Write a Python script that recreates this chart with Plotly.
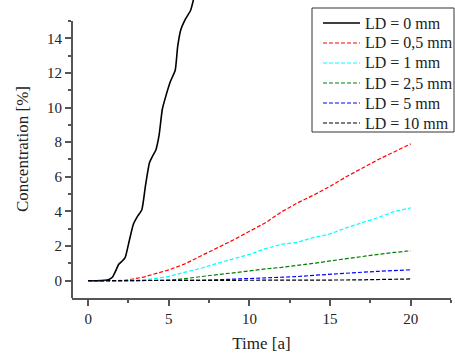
import plotly.graph_objects as go

# ---- data ----
x_ld0 = [0, 0.5, 1.0, 1.25, 1.5, 1.7, 1.9, 2.1, 2.3, 2.5, 2.8, 3.05, 3.33, 3.55, 3.8,
         4.0, 4.2, 4.4, 4.6, 4.8, 5.1, 5.4, 5.55, 5.75, 6.0, 6.35, 6.6]
y_ld0 = [0, 0, 0.02, 0.05, 0.2, 0.55, 0.95, 1.12, 1.35, 2.1, 3.25, 3.7, 4.1, 5.45, 6.8,
         7.2, 7.55, 8.4, 9.9, 10.6, 11.5, 12.15, 13.5, 14.5, 15.05, 15.6, 16.5]

x_grid = [0, 1, 2, 2.5, 3, 3.5, 4, 4.5, 5, 6, 7, 8, 9, 10, 11, 12, 13, 14, 15, 16, 17, 18, 19, 20]
y_ld05 = [0, 0, 0, 0.05, 0.12, 0.22, 0.36, 0.5, 0.62, 0.97, 1.42, 1.88, 2.35, 2.85, 3.35,
          3.98, 4.5, 4.95, 5.45, 6.0, 6.5, 7.0, 7.45, 7.9]
y_ld1 = [0, 0, 0, 0, 0.02, 0.05, 0.1, 0.17, 0.25, 0.47, 0.72, 1.0, 1.25, 1.52, 1.85,
         2.1, 2.22, 2.5, 2.7, 3.05, 3.35, 3.65, 4.0, 4.2]
y_ld25 = [0, 0, 0, 0, 0, 0, 0, 0, 0.02, 0.12, 0.25, 0.35, 0.45, 0.58, 0.68,
          0.77, 0.87, 1.0, 1.14, 1.28, 1.4, 1.52, 1.63, 1.73]
y_ld5 = [0, 0, 0, 0, 0, 0, 0, 0, 0, 0, 0.02, 0.05, 0.08, 0.11, 0.15,
         0.19, 0.24, 0.31, 0.38, 0.44, 0.49, 0.54, 0.59, 0.63]
y_ld10 = [0, 0, 0, 0, 0, 0, 0, 0, 0, 0, 0, 0, 0, 0, 0,
          0, 0, 0, 0.02, 0.04, 0.05, 0.07, 0.09, 0.1]

names = ["LD = 0 mm", "LD = 0,5 mm", "LD = 1 mm", "LD = 2,5 mm", "LD = 5 mm", "LD = 10 mm"]
colors = ["#000000", "#FF0000", "#00FFFF", "#008000", "#0000FF", "#000000"]
dashes = ["solid", "4px,2px", "4px,2px", "4px,2px", "4px,2px", "4px,2px"]
widths = [1.6, 1.2, 1.2, 1.2, 1.2, 1.2]

x_ticks = [0, 5, 10, 15, 20]
x_minor = [2.5, 7.5, 12.5, 17.5, 22.5]
y_ticks = [0, 2, 4, 6, 8, 10, 12, 14]
y_minor = [1, 3, 5, 7, 9, 11, 13, 15]

FONT = "Liberation Serif"
AX = "#555555"
W, H = 455, 353
ML, MR, MT, MB = 72, 4, 0, 55
PW, PH = W - ML - MR, H - MT - MB


def px(xp):
    return (xp - ML) / PW


def py(yp):
    return (H - MB - yp) / PH


fig = go.Figure()
all_x = [x_ld0] + [x_grid] * 5
all_y = [y_ld0, y_ld05, y_ld1, y_ld25, y_ld5, y_ld10]
for i in range(6):
    line = dict(color=colors[i], width=widths[i], dash=dashes[i])
    if i == 0:
        line.update(shape="spline", smoothing=0.5)
    fig.add_trace(go.Scatter(x=all_x[i], y=all_y[i], name=names[i], mode="lines",
                             line=line, showlegend=False))

# y axis line drawn only up to 15 (data may run above it)
fig.add_shape(type="line", xref="paper", yref="y", x0=0, x1=0, y0=-1, y1=15,
              line=dict(color=AX, width=2))

# legend box (drawn to match the reference layout)
fig.add_shape(type="rect", xref="paper", yref="paper",
              x0=px(312), x1=px(454), y0=py(132), y1=py(8),
              line=dict(color="#333333", width=1), fillcolor="white", layer="above")
for i in range(6):
    yy = py(23 + 20 * i)
    fig.add_shape(type="line", xref="paper", yref="paper", x0=px(323), x1=px(360),
                  y0=yy, y1=yy, layer="above",
                  line=dict(color=colors[i], width=widths[i], dash=dashes[i]))
    fig.add_annotation(xref="paper", yref="paper", x=px(363), y=yy, text=names[i],
                       showarrow=False, xanchor="left", yanchor="middle",
                       font=dict(family=FONT, size=16, color="#222222"))

fig.update_layout(
    width=W, height=H,
    margin=dict(l=ML, r=MR, t=MT, b=MB, autoexpand=False),
    plot_bgcolor="white", paper_bgcolor="white",
    font=dict(family=FONT, size=15, color="#222222"),
    showlegend=False,
    xaxis=dict(range=[-1, 22.5], showgrid=False, zeroline=False,
               showline=True, linecolor=AX, linewidth=2,
               ticks="outside", tickvals=x_ticks, ticklen=6, tickwidth=1.5, tickcolor=AX,
               minor=dict(tickvals=x_minor, ticks="outside", ticklen=3, tickwidth=1.5, tickcolor=AX),
               title=dict(text="Time [a]", font=dict(size=17), standoff=12)),
    yaxis=dict(range=[-1, 15 + 21 / 17.36], showgrid=False, zeroline=False,
               showline=False,
               ticks="outside", tickvals=y_ticks, ticklen=6, tickwidth=1.5, tickcolor=AX,
               minor=dict(tickvals=y_minor, ticks="outside", ticklen=3, tickwidth=1.5, tickcolor=AX),
               title=dict(text="Concentration [%]", font=dict(size=17), standoff=14)),
)

fig.write_html("out.html", config={"displayModeBar": False},
               post_script="document.body.style.margin='0';")
